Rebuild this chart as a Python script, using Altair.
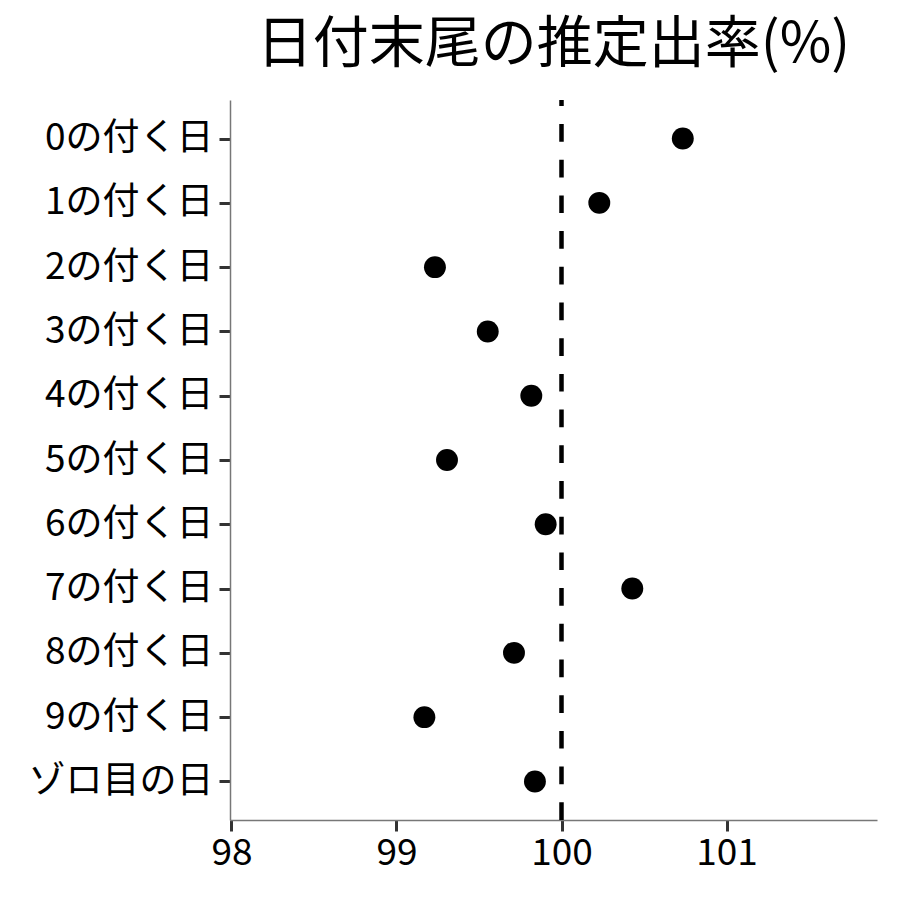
import altair as alt
import pandas as pd

categories = ["0の付く日", "1の付く日", "2の付く日", "3の付く日", "4の付く日",
              "5の付く日", "6の付く日", "7の付く日", "8の付く日", "9の付く日", "ゾロ目の日"]
rates = [100.735, 100.229, 99.233, 99.553, 99.817, 99.306, 99.904, 100.429, 99.712, 99.169, 99.839]
x_ticks = [98, 99, 100, 101]
reference = [100]
title_text = "日付末尾の推定出率(%)"

FONT = "Noto Sans CJK JP"
W, H = 647, 720

df = pd.DataFrame({"label": categories, "rate": rates})
ref_df = pd.DataFrame({"x": reference})

x_scale = alt.Scale(domain=[97.991, 101.912], nice=False, zero=False)

rule = alt.Chart(ref_df).mark_rule(
    strokeDash=[17.7, 18], strokeWidth=4.5, color="black"
).encode(
    x=alt.X("x:Q", scale=x_scale),
    y=alt.value(H),
    y2=alt.value(0),
)

points = alt.Chart(df).mark_circle(size=480, color="black", opacity=1).encode(
    x=alt.X(
        "rate:Q",
        scale=x_scale,
        axis=alt.Axis(
            values=x_ticks, format="d", title=None, grid=False, labelFontSize=37,
            labelFont=FONT, labelColor="black", labelPadding=4,
            tickSize=11, tickWidth=3, tickColor="#333333",
            domainColor="#777777", domainWidth=1.5, labelFlush=False,
        ),
    ),
    y=alt.Y(
        "label:N",
        sort=categories,
        scale=alt.Scale(type="point", padding=0.6),
        axis=alt.Axis(
            title=None, grid=False, labelFontSize=37, labelFont=FONT,
            labelColor="black", labelPadding=6, labelLimit=400, tickSize=11,
            tickWidth=3, tickColor="#333333", domainColor="#777777",
            domainWidth=1.5,
        ),
    ),
)

chart = alt.layer(rule, points).properties(
    width=W,
    height=H,
    title=alt.TitleParams(
        text=title_text, fontSize=56, font=FONT, fontWeight="normal",
        anchor="middle", baseline="middle", offset=-3, color="black",
    ),
    autosize=alt.AutoSizeParams(type="none"),
    padding={"left": 222, "top": 92, "right": 10, "bottom": 60},
).configure_view(stroke=None)

chart.save("out.html", embed_options={"renderer": "svg", "actions": False})
